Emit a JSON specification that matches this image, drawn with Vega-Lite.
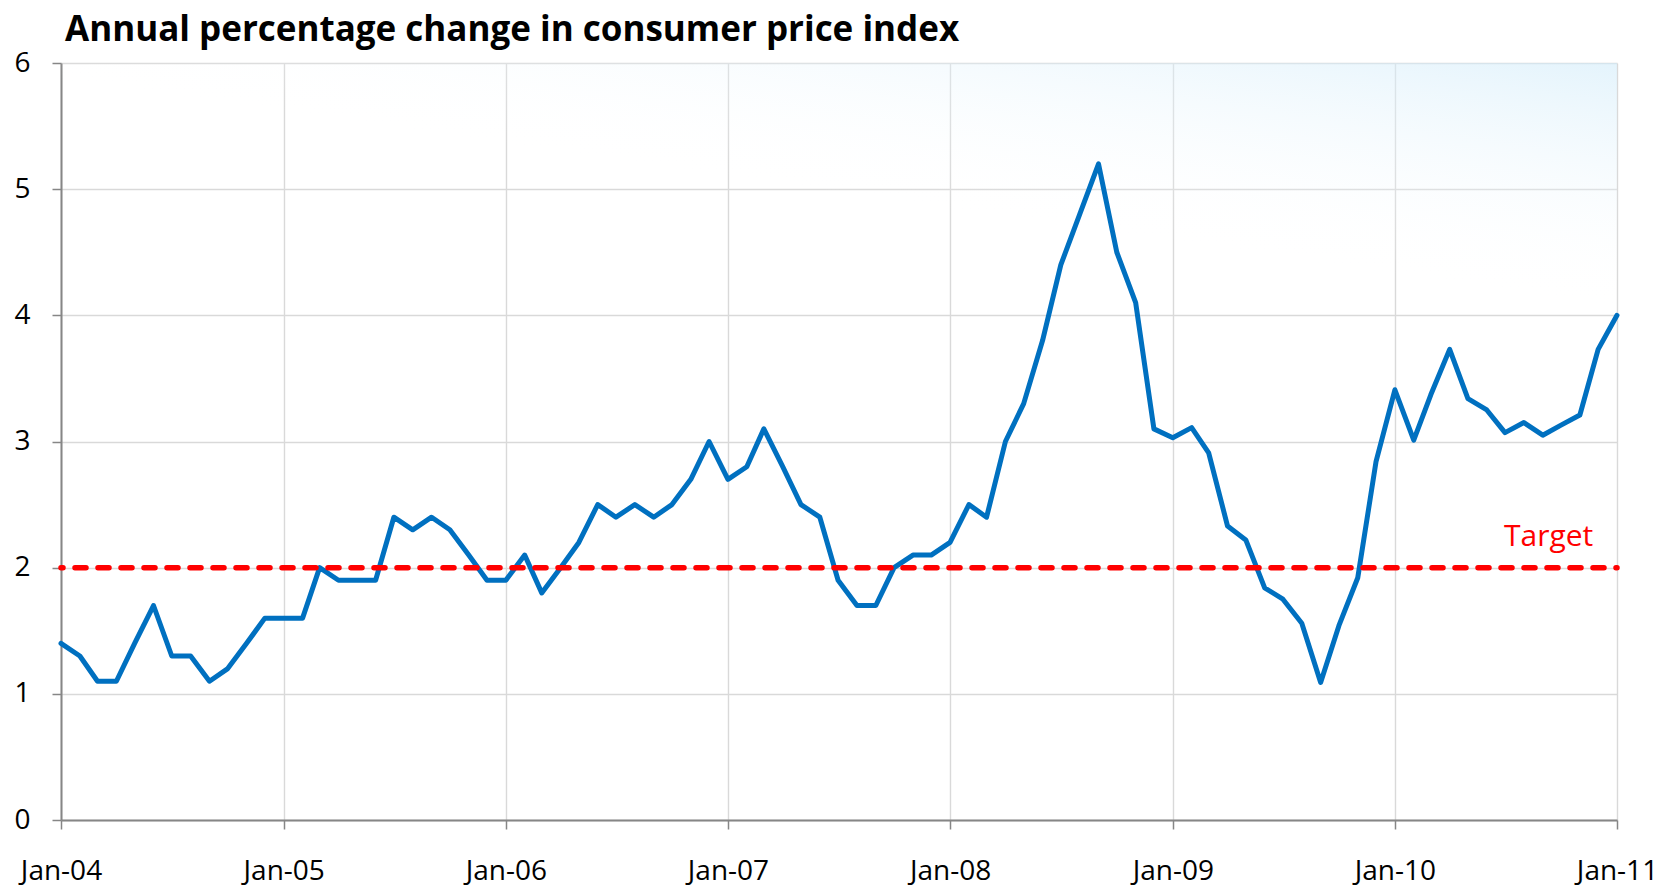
{
  "$schema": "https://vega.github.io/schema/vega-lite/v6.json",
  "width": 1556,
  "height": 757,
  "autosize": {"type": "none"},
  "padding": {"left": 61, "top": 63, "right": 58, "bottom": 67},
  "background": "#ffffff",
  "title": {
    "text": "Annual percentage change in consumer price index",
    "anchor": "start",
    "frame": "group",
    "font": "Open Sans",
    "fontSize": 35,
    "fontWeight": "bold",
    "color": "#000000",
    "offset": 1,
    "dx": 4
  },
  "config": {
    "view": {"stroke": null},
    "font": "Open Sans",
    "axis": {
      "labelFont": "Open Sans",
      "labelFontSize": 28,
      "labelColor": "#000000",
      "gridColor": "#d9d9d9",
      "gridWidth": 1.4,
      "domainColor": "#868686",
      "domainWidth": 2,
      "tickColor": "#868686",
      "tickWidth": 1.5,
      "tickSize": 9,
      "title": null
    }
  },
  "datasets": {
    "cpi": [
      {"date": "2004-01-01", "value": 1.4}, {"date": "2004-02-01", "value": 1.3}, {"date": "2004-03-01", "value": 1.1}, {"date": "2004-04-01", "value": 1.1},
      {"date": "2004-05-01", "value": 1.4}, {"date": "2004-06-01", "value": 1.7}, {"date": "2004-07-01", "value": 1.3}, {"date": "2004-08-01", "value": 1.3},
      {"date": "2004-09-01", "value": 1.1}, {"date": "2004-10-01", "value": 1.2}, {"date": "2004-11-01", "value": 1.4}, {"date": "2004-12-01", "value": 1.6},
      {"date": "2005-01-01", "value": 1.6}, {"date": "2005-02-01", "value": 1.6}, {"date": "2005-03-01", "value": 2.0}, {"date": "2005-04-01", "value": 1.9},
      {"date": "2005-05-01", "value": 1.9}, {"date": "2005-06-01", "value": 1.9}, {"date": "2005-07-01", "value": 2.4}, {"date": "2005-08-01", "value": 2.3},
      {"date": "2005-09-01", "value": 2.4}, {"date": "2005-10-01", "value": 2.3}, {"date": "2005-11-01", "value": 2.1}, {"date": "2005-12-01", "value": 1.9},
      {"date": "2006-01-01", "value": 1.9}, {"date": "2006-02-01", "value": 2.1}, {"date": "2006-03-01", "value": 1.8}, {"date": "2006-04-01", "value": 2.0},
      {"date": "2006-05-01", "value": 2.2}, {"date": "2006-06-01", "value": 2.5}, {"date": "2006-07-01", "value": 2.4}, {"date": "2006-08-01", "value": 2.5},
      {"date": "2006-09-01", "value": 2.4}, {"date": "2006-10-01", "value": 2.5}, {"date": "2006-11-01", "value": 2.7}, {"date": "2006-12-01", "value": 3.0},
      {"date": "2007-01-01", "value": 2.7}, {"date": "2007-02-01", "value": 2.8}, {"date": "2007-03-01", "value": 3.1}, {"date": "2007-04-01", "value": 2.8},
      {"date": "2007-05-01", "value": 2.5}, {"date": "2007-06-01", "value": 2.4}, {"date": "2007-07-01", "value": 1.9}, {"date": "2007-08-01", "value": 1.7},
      {"date": "2007-09-01", "value": 1.7}, {"date": "2007-10-01", "value": 2.0}, {"date": "2007-11-01", "value": 2.1}, {"date": "2007-12-01", "value": 2.1},
      {"date": "2008-01-01", "value": 2.2}, {"date": "2008-02-01", "value": 2.5}, {"date": "2008-03-01", "value": 2.4}, {"date": "2008-04-01", "value": 3.0},
      {"date": "2008-05-01", "value": 3.3}, {"date": "2008-06-01", "value": 3.8}, {"date": "2008-07-01", "value": 4.4}, {"date": "2008-08-01", "value": 4.8},
      {"date": "2008-09-01", "value": 5.2}, {"date": "2008-10-01", "value": 4.5}, {"date": "2008-11-01", "value": 4.1}, {"date": "2008-12-01", "value": 3.1},
      {"date": "2009-01-01", "value": 3.03}, {"date": "2009-02-01", "value": 3.11}, {"date": "2009-03-01", "value": 2.91}, {"date": "2009-04-01", "value": 2.33},
      {"date": "2009-05-01", "value": 2.22}, {"date": "2009-06-01", "value": 1.84}, {"date": "2009-07-01", "value": 1.75}, {"date": "2009-08-01", "value": 1.56},
      {"date": "2009-09-01", "value": 1.09}, {"date": "2009-10-01", "value": 1.54}, {"date": "2009-11-01", "value": 1.92}, {"date": "2009-12-01", "value": 2.84},
      {"date": "2010-01-01", "value": 3.41}, {"date": "2010-02-01", "value": 3.01}, {"date": "2010-03-01", "value": 3.37}, {"date": "2010-04-01", "value": 3.73},
      {"date": "2010-05-01", "value": 3.34}, {"date": "2010-06-01", "value": 3.25}, {"date": "2010-07-01", "value": 3.07}, {"date": "2010-08-01", "value": 3.15},
      {"date": "2010-09-01", "value": 3.05}, {"date": "2010-10-01", "value": 3.13}, {"date": "2010-11-01", "value": 3.21}, {"date": "2010-12-01", "value": 3.73},
      {"date": "2011-01-01", "value": 4.0}
    ],
    "target": [
      {"date": "2004-01-01", "value": 2},
      {"date": "2011-01-01", "value": 2}
    ],
    "label": [
      {"date": "2010-11-23", "value": 2.17, "text": "Target"}
    ]
  },
  "layer": [
    {
      "data": {"values": [{}]},
      "mark": {
        "type": "rect",
        "fill": {
          "gradient": "linear",
          "x1": 1, "y1": 0, "x2": 0.7, "y2": 1,
          "stops": [
            {"offset": 0, "color": "rgba(210,236,250,0.6)"},
            {"offset": 0.3, "color": "rgba(255,255,255,0)"}
          ]
        }
      },
      "encoding": {}
    },
    {
      "data": {"name": "cpi"},
      "mark": {"type": "line", "color": "#0070C0", "strokeWidth": 5, "strokeJoin": "round", "strokeCap": "round"},
      "encoding": {
        "x": {
          "field": "date",
          "type": "temporal",
          "scale": {
            "type": "utc",
            "nice": false,
            "domain": [{"year": 2004, "month": 1, "date": 1, "utc": true}, {"year": 2011, "month": 1, "date": 1, "utc": true}]
          },
          "axis": {
            "values": [
              {"year": 2004, "month": 1, "date": 1, "utc": true},
              {"year": 2005, "month": 1, "date": 1, "utc": true},
              {"year": 2006, "month": 1, "date": 1, "utc": true},
              {"year": 2007, "month": 1, "date": 1, "utc": true},
              {"year": 2008, "month": 1, "date": 1, "utc": true},
              {"year": 2009, "month": 1, "date": 1, "utc": true},
              {"year": 2010, "month": 1, "date": 1, "utc": true},
              {"year": 2011, "month": 1, "date": 1, "utc": true}
            ],
            "labelExpr": "utcFormat(datum.value, '%b-%y')",
            "labelPadding": 28,
            "labelFlush": false,
            "labelOverlap": false,
            "grid": true
          }
        },
        "y": {
          "field": "value",
          "type": "quantitative",
          "scale": {"domain": [0, 6], "nice": false, "zero": true},
          "axis": {"values": [0, 1, 2, 3, 4, 5, 6], "format": "d", "labelPadding": 22, "grid": true}
        }
      }
    },
    {
      "data": {"name": "target"},
      "mark": {"type": "line", "color": "#FF0000", "strokeWidth": 5.5, "strokeDash": [11, 12], "strokeCap": "round", "strokeDashOffset": -14},
      "encoding": {
        "x": {"field": "date", "type": "temporal"},
        "y": {"field": "value", "type": "quantitative"}
      }
    },
    {
      "data": {"name": "label"},
      "mark": {"type": "text", "color": "#FF0000", "font": "Open Sans", "fontSize": 30, "align": "right", "baseline": "alphabetic"},
      "encoding": {
        "x": {"field": "date", "type": "temporal"},
        "y": {"field": "value", "type": "quantitative"},
        "text": {"field": "text"}
      }
    }
  ]
}
